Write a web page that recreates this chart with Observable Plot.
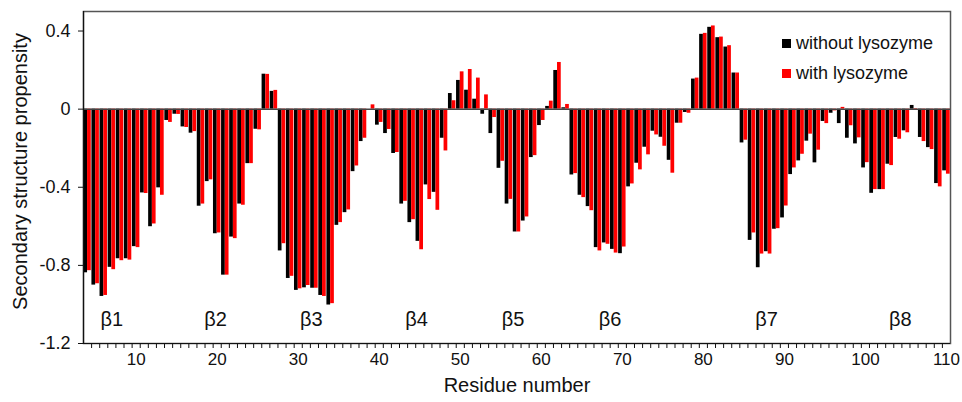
<!DOCTYPE html>
<html>
<head>
<meta charset="utf-8">
<script src="https://cdn.jsdelivr.net/npm/d3@7"></script>
<script src="https://cdn.jsdelivr.net/npm/@observablehq/plot@0.6"></script>
<style>
  body { margin: 0; background: white; }
  #wrap { position: relative; width: 962px; height: 402px; font-family: "Liberation Sans", Arial, sans-serif; }
  .leg { position: absolute; left: 782px; display: flex; align-items: center; font-size: 18px; color: #111; white-space: nowrap; }
  .sw { width: 9px; height: 9px; margin-right: 5px; }
</style>
</head>
<body>
<div id="wrap">
  <div id="chart"></div>
  <div class="leg" style="top:33px"><span class="sw" style="background:#000"></span>without lysozyme</div>
  <div class="leg" style="top:63px"><span class="sw" style="background:#ff0000"></span>with lysozyme</div>
</div>
<script>
const residues = d3.range(4, 111);
const withoutLysozyme = [
 -0.838,-0.901,-0.959,-0.810,-0.766,-0.766,-0.704,-0.429,-0.602,-0.403,
 -0.058,-0.026,-0.091,-0.123,-0.497,-0.371,-0.638,-0.850,-0.655,-0.486,
 -0.279,-0.103, 0.179, 0.091,-0.726,-0.867,-0.928,-0.915,-0.917,-0.954,
 -1.003,-0.595,-0.530,-0.320,-0.166, 0.000,-0.082,-0.125,-0.227,-0.486,
 -0.581,-0.677,-0.388,-0.426,-0.149, 0.080, 0.147, 0.097, 0.051,-0.026,
 -0.125,-0.303,-0.486,-0.629,-0.573,-0.248,-0.084, 0.014, 0.198, 0.007,
 -0.337,-0.441,-0.499,-0.709,-0.685,-0.718,-0.740,-0.398,-0.277,-0.195,
 -0.113,-0.144,-0.262,-0.072,-0.017, 0.154, 0.383, 0.419, 0.366, 0.318,
  0.185,-0.173,-0.672,-0.812,-0.730,-0.615,-0.557,-0.335,-0.265,-0.164,
 -0.275,-0.063,-0.021,-0.074,-0.149,-0.178,-0.301,-0.431,-0.412,-0.282,
 -0.145,-0.111, 0.019,-0.145,-0.197,-0.381,-0.316
];
const withLysozyme = [
 -0.827,-0.894,-0.954,-0.822,-0.776,-0.773,-0.709,-0.432,-0.588,-0.441,
 -0.068,-0.027,-0.094,-0.115,-0.486,-0.362,-0.634,-0.850,-0.663,-0.492,
 -0.279,-0.106, 0.178, 0.096,-0.689,-0.856,-0.920,-0.903,-0.917,-0.959,
 -0.996,-0.581,-0.516,-0.291,-0.149, 0.022,-0.068,-0.104,-0.222,-0.472,
 -0.566,-0.720,-0.463,-0.518,-0.214, 0.043, 0.191, 0.203, 0.159, 0.073,
 -0.043,-0.267,-0.462,-0.629,-0.552,-0.238,-0.058, 0.041, 0.239, 0.024,
 -0.330,-0.453,-0.520,-0.726,-0.692,-0.737,-0.706,-0.383,-0.311,-0.234,
 -0.132,-0.190,-0.328,-0.072,-0.021, 0.159, 0.388, 0.426, 0.369, 0.325,
  0.185,-0.159,-0.634,-0.742,-0.742,-0.612,-0.496,-0.301,-0.231,-0.128,
 -0.210,-0.074,-0.009, 0.009,-0.085,-0.147,-0.274,-0.412,-0.412,-0.289,
 -0.154,-0.121, 0.003,-0.166,-0.207,-0.398,-0.333
];
const strandLabels = ["β1","β2","β3","β4","β5","β6","β7","β8"];
const strandResidues = [7, 19.8, 31.6, 44.6, 56.5, 68.5, 87.8, 104.3];
const xTicks = [10,20,30,40,50,60,70,80,90,100,110];
const yTicks = [-1.2,-0.8,-0.4,0,0.4];

const rows = residues.map((r, i) => ({res: r, without: withoutLysozyme[i], with: withLysozyme[i]}));
const strands = strandLabels.map((s, i) => ({label: s, res: strandResidues[i]}));
const half = 0.46;

const chart = Plot.plot({
  width: 962, height: 402,
  marginTop: 11, marginBottom: 59, marginLeft: 83, marginRight: 12,
  x: {domain: [3.5, 110.5]},
  y: {domain: [-1.2, 0.5]},
  style: {fontFamily: "'Liberation Sans', Arial, sans-serif", fontSize: "16px", color: "#111", background: "white"},
  marks: [
    Plot.frame({stroke: "#555", strokeWidth: 1.5}),
    Plot.rect(rows, {x1: d => d.res - half, x2: d => d.res, y1: 0, y2: "without", fill: "#000"}),
    Plot.rect(rows, {x1: d => d.res, x2: d => d.res + half, y1: 0, y2: "with", fill: "#ff0000"}),
    Plot.ruleY([0], {stroke: "#444", strokeWidth: 1.5}),
    Plot.ruleX([3.5], {stroke: "#111", strokeWidth: 1.2}),
    Plot.ruleY([-1.2], {stroke: "#111", strokeWidth: 1.2}),
    Plot.axisY(yTicks, {tickSize: 5, tickPadding: 8, tickFormat: d => String(d), fontSize: 18, label: null}),
    Plot.axisX(xTicks, {tickSize: 0, tickPadding: 9, fontSize: 17, label: null}),
    Plot.axisX(d3.range(4.5, 110, 1), {tickSize: 5, tickFormat: () => "", label: null}),
    Plot.text(strands, {x: "res", y: () => -1.08, text: "label", fontSize: 20, fill: "#111"}),
    Plot.text(["Secondary structure propensity"], {frameAnchor: "left", textAnchor: "middle", rotate: -90, dx: -63, dy: -6, fontSize: 20, fill: "#111"}),
    Plot.text(["Residue number"], {frameAnchor: "bottom", dy: 48, fontSize: 20, fill: "#111"})
  ]
});
document.getElementById("chart").appendChild(chart);
</script>
</body>
</html>
